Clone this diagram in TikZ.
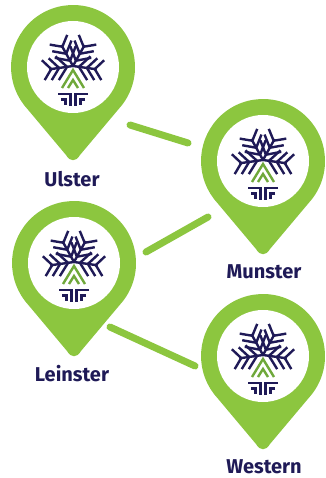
\documentclass[tikz,border=0pt]{standalone}
\usepackage{fontspec}
\setmainfont{Fira Sans}
\definecolor{pingreen}{HTML}{8CC63F}
\definecolor{pinnavy}{HTML}{1F1A57}
\definecolor{leafgreen}{HTML}{6FA83A}
\tikzset{
  link/.style={pingreen, line width=7pt, line cap=round},
  placename/.style={font=\bfseries\fontsize{20}{22}\selectfont, text=pinnavy, inner sep=0pt},
  branch/.style={pinnavy, line width=2.4pt, line join=miter},
  leaf/.style={leafgreen, line width=2.4pt},
  pin/.pic={
    \fill[pingreen] (46.1,-41.5) arc[start angle=-42, end angle=222, radius=62]
      -- (-7,-88) .. controls (-3,-95) and (3,-95) .. (7,-88) -- cycle;
    \fill[white] (0,0) circle[radius=46];
    % the four snow arms
    \foreach \a in {29,-29,98,-98} {
      \begin{scope}[shift={(0,1)}, rotate=\a]
        \draw[branch] (0,0) -- (0,24);
        \draw[branch] (-12,16) -- (0,6) -- (12,16);
        \draw[branch] (-11,23) -- (0,14) -- (11,23);
        \draw[branch] (-10,30) -- (0,22) -- (10,30);
      \end{scope}
    }
    \draw[leaf] (-11,-21) -- (0,-3) -- (11,-21);
    \draw[leaf] (-5,-21) -- (0,-13) -- (5,-21);
    \draw[branch] (-15,-27) -- (-2.5,-27) -- (-2.5,-39);
    \draw[branch] (15,-27) -- (2.5,-27) -- (2.5,-39);
    \draw[branch] (-12,-32.5) -- (-7.5,-32.5) -- (-7.5,-38);
    \draw[branch] (12,-32.5) -- (7.5,-32.5) -- (7.5,-38);
  }
}
\begin{document}
\begin{tikzpicture}[x=1pt, y=1pt]
  \useasboundingbox (0,-478) rectangle (325,0);
  \coordinate (ulsterlink) at (130,-125);
  \coordinate (munsterlinka) at (188,-143);
  \coordinate (munsterlinkb) at (208,-217);
  \coordinate (leinsterlinka) at (146,-252);
  \coordinate (leinsterlinkb) at (110,-327);
  \coordinate (westernlink) at (195,-366);
  \draw[link] (ulsterlink) -- (munsterlinka);
  \draw[link] (leinsterlinka) -- (munsterlinkb);
  \draw[link] (leinsterlinkb) -- (westernlink);
  \pic (ulsterpin) at (73,-67) {pin};
  \pic (munsterpin) at (263,-161) {pin};
  \pic (leinsterpin) at (74,-263) {pin};
  \pic (westernpin) at (263,-356) {pin};
  \node[placename] (ulster) at (72,-179) {Ulster};
  \node[placename] (munster) at (264,-272) {Munster};
  \node[placename] (leinster) at (72,-374) {Leinster};
  \node[placename] (western) at (264,-467) {Western};
\end{tikzpicture}
\end{document}
